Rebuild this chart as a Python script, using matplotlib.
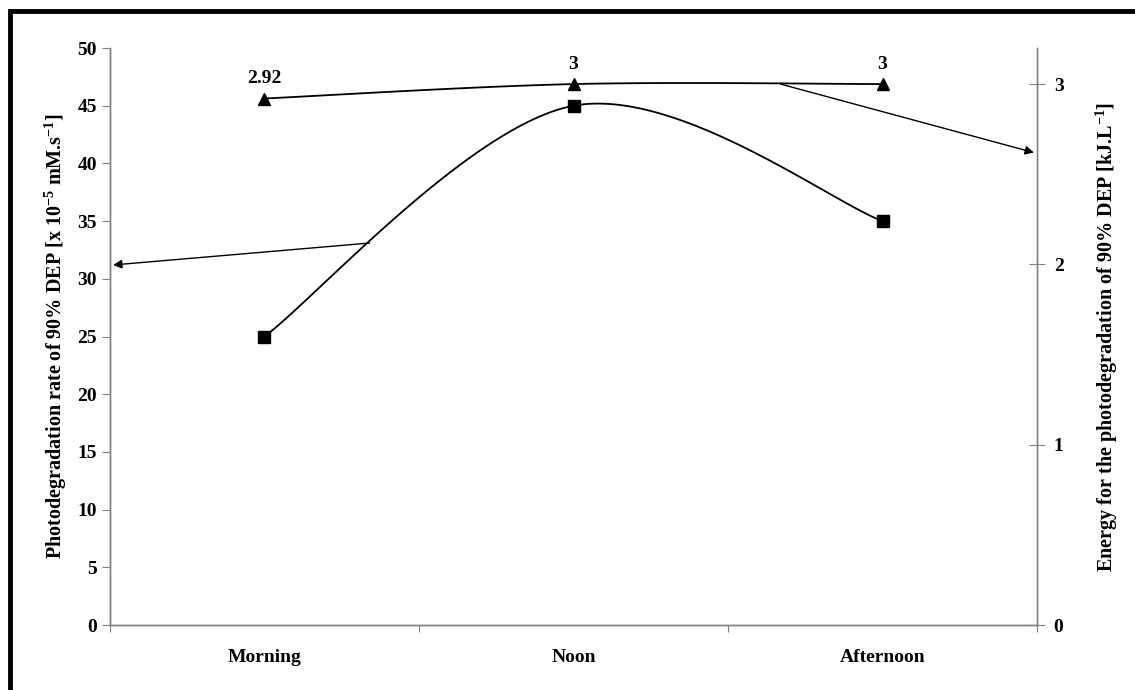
import numpy as np
import matplotlib
matplotlib.use("Agg")
import matplotlib.pyplot as plt
from matplotlib.patches import Rectangle

plt.rcParams['font.family'] = ['Liberation Serif', 'DejaVu Serif']
plt.rcParams['font.weight'] = 'bold'
plt.rcParams['axes.labelweight'] = 'bold'
plt.rcParams['font.size'] = 14
plt.rcParams['mathtext.fontset'] = 'custom'
plt.rcParams['mathtext.rm'] = 'Liberation Serif:bold'
plt.rcParams['mathtext.bf'] = 'Liberation Serif:bold'
plt.rcParams['mathtext.default'] = 'bf'

periods = ['Morning', 'Noon', 'Afternoon']
rate = [25, 45, 35]            # x 10^-5 mM.s^-1
energy = [2.92, 3, 3]          # kJ.L^-1
energy_labels = ['2.92', '3', '3']

GRAY = '#808080'


def smooth(xs, ys, n=60):
    # Catmull-Rom style bezier through the points (same as a spreadsheet "smoothed line")
    p = np.column_stack([xs, ys]).astype(float)
    p = np.vstack([p[0], p, p[-1]])
    out = []
    t = np.linspace(0, 1, n)[:, None]
    for i in range(1, len(p) - 2):
        p0, p1, p2, p3 = p[i - 1], p[i], p[i + 1], p[i + 2]
        c1 = p1 + (p2 - p0) / 6
        c2 = p2 - (p3 - p1) / 6
        seg = ((1 - t) ** 3) * p1 + 3 * ((1 - t) ** 2) * t * c1 + 3 * (1 - t) * t ** 2 * c2 + t ** 3 * p2
        out.append(seg)
    out = np.vstack(out)
    return out[:, 0], out[:, 1]


fig = plt.figure(figsize=(11.35, 6.9), dpi=100)
ax = fig.add_axes([0.0969, 0.0942, 0.8168, 0.8362])
ax2 = ax.twinx()

x = np.arange(len(periods)) + 0.5

sx, sy = smooth(x, rate)
ax.plot(sx, sy, color='black', lw=1.3)
ax.plot(x, rate, ls='none', marker='s', ms=8.5, color='black')

tx, ty = smooth(x, energy)
ax2.plot(tx, ty, color='black', lw=1.3)
ax2.plot(x, energy, ls='none', marker='^', ms=9, color='black')
for xi, yi, lab in zip(x, energy, energy_labels):
    ax2.annotate(lab, (xi, yi), xytext=(0, 8), textcoords='offset points',
                 ha='center', va='bottom', fontsize=14)

ax.set_xlim(0, 3)
ax.set_ylim(0, 50)
ax2.set_ylim(0, 3.2)
ax.set_yticks(np.arange(0, 51, 5))
ax2.set_yticks([0, 1, 2, 3])

ax.set_xticks([0, 1, 2, 3])
ax.set_xticklabels([])
ax.set_xticks(x, minor=True)
ax.set_xticklabels(periods, minor=True)
ax.tick_params(axis='x', which='major', direction='out', length=5, color=GRAY)
ax.tick_params(axis='x', which='minor', length=0, pad=17, labelsize=14)
ax.tick_params(axis='y', direction='out', length=6, color=GRAY, labelsize=14)
ax2.tick_params(axis='y', direction='inout', length=12, color=GRAY, labelsize=14, pad=6)

for a in (ax, ax2):
    for s in a.spines.values():
        s.set_color(GRAY)
        s.set_linewidth(1.0)
    a.spines['top'].set_visible(False)

ax.set_ylabel('Photodegradation rate of 90% DEP [x 10$^{-5}$ mM.s$^{-1}$]',
              fontsize=14.5, labelpad=6)
ax2.set_ylabel('Energy for the photodegradation of 90% DEP [kJ.L$^{-1}$]',
               fontsize=14.5, labelpad=22)

# arrows pointing each curve to its own axis
ax.annotate('', xy=(0.01, 31.2), xytext=(0.84, 33.1),
            arrowprops=dict(arrowstyle='-|>', color='black', lw=1.0, mutation_scale=13,
                            shrinkA=0, shrinkB=0))
ax2.annotate('', xy=(2.99, 2.62), xytext=(2.17, 3.0),
             arrowprops=dict(arrowstyle='-|>', color='black', lw=1.0, mutation_scale=13,
                             shrinkA=0, shrinkB=0))

# outer frame
fig.patches.append(Rectangle((10 / 1135, -0.2), 1.2, 1.2 - 11 / 690,
                             transform=fig.transFigure, fill=False,
                             edgecolor='black', lw=3.5, zorder=10))

fig.savefig('out.png', dpi=100)
